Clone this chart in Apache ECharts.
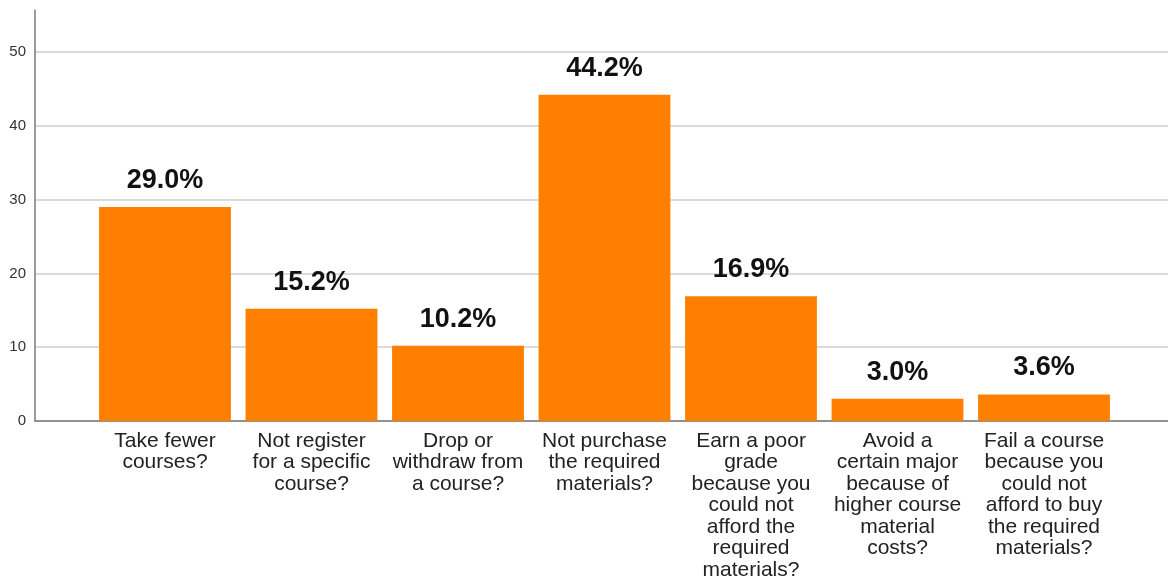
<!DOCTYPE html>
<html>
<head>
<meta charset="utf-8">
<script src="https://cdn.jsdelivr.net/npm/echarts@6/dist/echarts.min.js"></script>
<style>html,body{margin:0;padding:0;background:#fff}#c{width:1168px;height:578px}</style>
</head>
<body>
<div id="c"></div>
<script>
var categories = [
  "Take fewer\ncourses?",
  "Not register\nfor a specific\ncourse?",
  "Drop or\nwithdraw from\na course?",
  "Not purchase\nthe required\nmaterials?",
  "Earn a poor\ngrade\nbecause you\ncould not\nafford the\nrequired\nmaterials?",
  "Avoid a\ncertain major\nbecause of\nhigher course\nmaterial\ncosts?",
  "Fail a course\nbecause you\ncould not\nafford to buy\nthe required\nmaterials?"
];
var values = [29.0, 15.2, 10.2, 44.2, 16.9, 3.0, 3.6];
var yTickMax = 50;
var yTickStep = 10;

var font = "'Liberation Sans', Arial, sans-serif";
var yMax = 55.7;
var plotTop = 10, plotBottom = 157, plotH = 578 - plotTop - plotBottom;
var tickTop = plotTop + plotH * (yMax - yTickMax) / yMax;

var chart = echarts.init(document.getElementById('c'), null, {renderer: 'canvas'});
chart.setOption({
  animation: false,
  grid: [
    {left: 35, right: 0, top: plotTop, bottom: plotBottom, containLabel: false, outerBoundsMode: 'none'},
    {left: 91.75, right: 50.75, top: plotTop, bottom: plotBottom, containLabel: false, outerBoundsMode: 'none'},
    {left: 35, right: 0, top: tickTop, bottom: plotBottom, containLabel: false, outerBoundsMode: 'none'}
  ],
  xAxis: [
    {gridIndex: 0, type: 'value', min: 0, max: 1,
     axisLine: {show: true, onZero: false, lineStyle: {color: '#7a7a7a', width: 1.5}},
     axisTick: {show: false}, axisLabel: {show: false}, splitLine: {show: false}},
    {gridIndex: 1, type: 'category', data: categories,
     axisLine: {show: false}, axisTick: {show: false},
     axisLabel: {interval: 0, color: '#222', fontFamily: font, fontSize: 21, lineHeight: 21.5, margin: 9, align: 'center'}},
    {gridIndex: 2, type: 'value', min: 0, max: 1, show: false}
  ],
  yAxis: [
    {gridIndex: 0, type: 'value', min: 0, max: yMax,
     axisLine: {show: true, lineStyle: {color: '#7a7a7a', width: 1.5}},
     axisTick: {show: false}, axisLabel: {show: false}, splitLine: {show: false}},
    {gridIndex: 1, type: 'value', min: 0, max: yMax, show: false},
    {gridIndex: 2, type: 'value', min: 0, max: yTickMax, interval: yTickStep,
     axisLine: {show: false}, axisTick: {show: false},
     axisLabel: {color: '#333', fontFamily: font, fontSize: 15, margin: 9},
     splitLine: {show: true, lineStyle: {color: '#cfcfcf', width: 1.5}}}
  ],
  series: [{
    type: 'bar', xAxisIndex: 1, yAxisIndex: 1, data: values,
    barCategoryGap: '10%', z: 3,
    itemStyle: {color: '#ff8000'},
    label: {show: true, position: 'top', distance: 13, color: '#111', fontFamily: font,
      fontWeight: 'bold', fontSize: 27,
      formatter: function (p) { return p.value.toFixed(1) + '%'; }}
  }]
});
</script>
</body>
</html>
